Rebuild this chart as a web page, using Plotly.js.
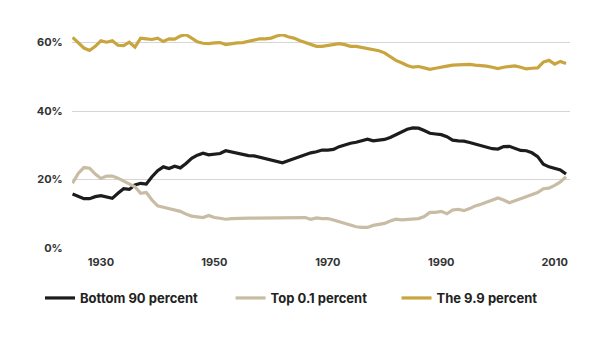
<!DOCTYPE html>
<html><head><meta charset="utf-8">
<script src="https://cdn.plot.ly/plotly-3.0.1.min.js"></script>
<style>html,body{margin:0;padding:0;background:#fff}#chart{width:613px;height:338px}</style>
</head><body><div id="chart"></div>
<script>
var years = [];
for (var y = 1925; y <= 2012; y++) years.push(y);

var bottom90 = [15.8,15.0,14.4,14.4,15.0,15.3,14.8,14.5,16.0,17.3,17.1,18.4,18.9,18.7,20.8,22.6,23.7,23.2,23.9,23.4,
  24.7,26.2,27.1,27.7,27.2,27.5,27.6,28.4,28.0,27.6,27.2,27.0,26.9,26.5,26.1,25.7,25.3,24.9,25.5,26.1,
  26.6,27.1,27.8,28.1,28.6,28.6,28.8,29.6,30.2,30.6,30.9,31.4,31.8,31.3,31.5,31.7,32.3,33.1,33.9,34.7,
  35.1,35.0,34.3,33.5,33.3,33.1,32.5,31.5,31.3,31.2,30.8,30.4,29.9,29.4,29.0,28.9,29.6,29.7,29.0,28.5,
  28.4,27.8,26.7,24.5,23.7,23.2,22.8,21.6];
var top01 = [18.9,21.8,23.5,23.3,21.6,20.3,21.0,21.0,20.4,19.6,18.7,17.9,16.0,16.2,14.0,12.3,11.9,11.5,11.1,10.7,
  9.9,9.3,9.1,8.9,9.5,8.9,8.7,8.4,8.6,8.7,8.7,8.7,8.7,8.7,8.9,8.9,8.9,8.8,8.7,8.7,
  8.7,8.9,8.4,8.8,8.6,8.6,8.2,7.7,7.2,6.7,6.2,6.0,6.0,6.6,6.9,7.2,7.9,8.4,8.2,8.4,
  8.5,8.6,9.2,10.4,10.4,10.7,10.0,11.1,11.3,10.9,11.5,12.3,12.8,13.4,14.0,14.6,14.0,13.2,13.8,14.4,
  14.8,15.4,16.2,17.3,17.5,18.3,19.3,20.8];
var the99 = [61.5,59.8,58.4,57.7,58.9,60.5,60.1,60.5,59.2,59.1,60.1,58.7,61.3,61.1,60.9,61.3,60.3,61.1,61.0,61.9,
  62.3,61.3,60.2,59.8,59.7,59.9,60.0,59.4,59.7,59.9,60.0,60.3,60.7,61.1,61.1,61.3,61.9,62.3,61.7,61.3,
  60.6,60.1,59.4,58.9,58.9,59.2,59.6,59.7,59.4,58.9,58.9,58.6,58.1,57.8,57.6,57.0,55.9,54.8,54.1,53.3,
  52.8,53.0,52.6,52.2,52.5,52.7,53.1,53.4,53.5,53.7,53.6,53.4,53.3,53.1,52.8,52.4,52.8,53.1,53.2,52.8,
  52.3,52.5,52.6,54.3,54.8,53.7,54.5,53.9];

var names = ["Bottom 90 percent", "Top 0.1 percent", "The 9.9 percent"];
var colors = ["#1c1c1c", "#c9bca5", "#c9a540"];
var series = [bottom90, top01, the99];
var legendPad = [9, 8, 0];

var traces = series.map(function(s, i) {
  return {x: years, y: s, type: "scatter", mode: "lines",
    name: names[i] + "\u00a0".repeat(legendPad[i]),
    line: {color: colors[i], width: 3.2, shape: "linear"}, hoverinfo: "skip"};
});

var fontFam = "Inter, 'Noto Sans', sans-serif";
var layout = {
  width: 613, height: 338,
  margin: {l: 72, r: 43, t: 34, b: 90},
  paper_bgcolor: "#fff", plot_bgcolor: "#fff",
  font: {family: fontFam, size: 11, color: "#333", weight: 700},
  showlegend: true,
  legend: {orientation: "h", x: 40 / 613, xref: "container", y: 40 / 338, yref: "container", yanchor: "middle",
    xanchor: "left", font: {family: fontFam, size: 13, color: "#222", weight: 700},
    itemwidth: 30, traceorder: "normal", bgcolor: "rgba(0,0,0,0)"},
  xaxis: {range: [1924.9, 2012.7], tickvals: [1930, 1950, 1970, 1990, 2010], ticktext: ["1930","1950","1970","1990","2010"],
    showgrid: false, zeroline: false, showline: false, ticks: "outside", ticklen: 4, tickcolor: "rgba(0,0,0,0)",
    tickfont: {family: fontFam, size: 11, color: "#333", weight: 700}, fixedrange: true},
  yaxis: {range: [0, 62.5], tickvals: [0, 20, 40, 60], ticktext: ["0%","20%","40%","60%"],
    showgrid: true, gridcolor: "#d6d6d6", gridwidth: 1, zeroline: false, showline: false,
    ticks: "outside", ticklen: 6, tickcolor: "rgba(0,0,0,0)",
    tickfont: {family: fontFam, size: 11, color: "#333", weight: 700}, fixedrange: true}
};

Plotly.newPlot("chart", traces, layout, {displayModeBar: false, staticPlot: true});
</script></body></html>
